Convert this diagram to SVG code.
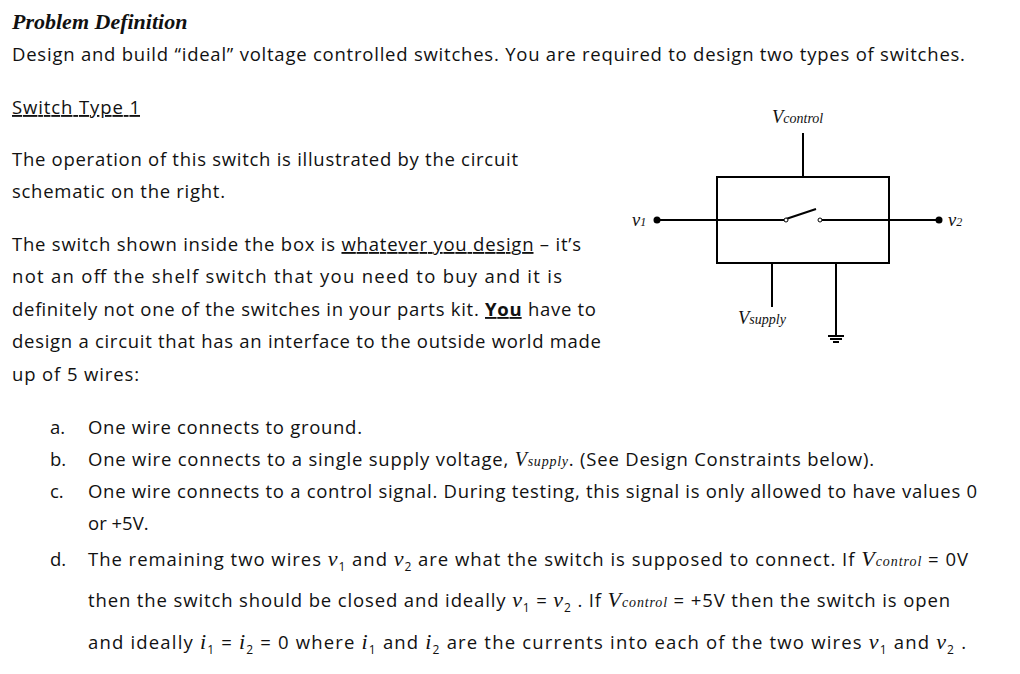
<svg xmlns="http://www.w3.org/2000/svg" width="1020" height="674" viewBox="0 0 1020 674">
<style>
text{font-family:"Open Sans","Liberation Sans",sans-serif;font-size:18.5px;fill:#111}
.m{font-family:"Liberation Serif",serif;font-style:italic}
.w{stroke:#000;stroke-width:2;fill:none}
</style>
<rect width="1020" height="674" fill="#fff"/>
<text x="12" y="29" style="font-family:'Liberation Serif',serif;font-style:italic;font-weight:bold;font-size:22px">Problem Definition</text>
<text x="12" y="61" textLength="953">Design and build “ideal” voltage controlled switches. You are required to design two types of switches.</text>
<text x="12" y="114" textLength="128" text-decoration="underline">Switch Type 1</text>
<text x="12" y="166" textLength="506">The operation of this switch is illustrated by the circuit</text>
<text x="12" y="198" textLength="213">schematic on the right.</text>
<text x="12" y="251" textLength="569">The switch shown inside the box is <tspan text-decoration="underline">whatever you design</tspan> – it’s</text>
<text x="12" y="283" textLength="550">not an off the shelf switch that you need to buy and it is</text>
<text x="12" y="316" textLength="584">definitely not one of the switches in your parts kit. <tspan font-weight="bold" text-decoration="underline">You</tspan> have to</text>
<text x="12" y="348" textLength="589">design a circuit that has an interface to the outside world made</text>
<text x="12" y="381" textLength="127">up of 5 wires:</text>

<g id="circuit">
<rect x="717" y="177" width="172" height="86" class="w"/>
<line x1="803" y1="133" x2="803" y2="177" class="w"/>
<line x1="657" y1="220" x2="785" y2="220" class="w"/>
<line x1="821" y1="220" x2="939" y2="220" class="w"/>
<line x1="786" y1="219" x2="816" y2="209" class="w" stroke-width="1.5"/>
<circle cx="786" cy="220" r="2" fill="#fff" stroke="#000"/>
<circle cx="820" cy="220" r="2" fill="#fff" stroke="#000"/>
<circle cx="657" cy="220" r="3.5" fill="#000"/>
<circle cx="939" cy="220" r="3.5" fill="#000"/>
<line x1="772" y1="263" x2="772" y2="307" class="w"/>
<line x1="836" y1="263" x2="836" y2="336" class="w"/>
<line x1="828" y1="336" x2="844" y2="336" class="w" stroke-width="1.5"/>
<line x1="830" y1="339" x2="842" y2="339" class="w" stroke-width="1.5"/>
<line x1="833" y1="342" x2="839" y2="342" class="w" stroke-width="1.5"/>
<text x="772" y="123" class="m" font-size="19">V<tspan font-size="14">control</tspan></text>
<text x="738" y="324" class="m" font-size="19">V<tspan font-size="14">supply</tspan></text>
<text x="632" y="226" class="m" font-size="18">v<tspan font-size="12">1</tspan></text>
<text x="948" y="226" class="m" font-size="18">v<tspan font-size="12">2</tspan></text>
</g>

<text x="50" y="434">a.</text>
<text x="88" y="434" textLength="274">One wire connects to ground.</text>
<text x="50" y="466">b.</text>
<text x="88" y="466" textLength="786">One wire connects to a single supply voltage, <tspan class="m" font-size="20">V<tspan font-size="14">supply</tspan></tspan>. (See Design Constraints below).</text>
<text x="50" y="498">c.</text>
<text x="88" y="498" textLength="889">One wire connects to a control signal. During testing, this signal is only allowed to have values 0</text>
<text x="88" y="530">or +5V.</text>
<text x="50" y="566">d.</text>
<text x="88" y="566" textLength="880">The remaining two wires <tspan class="m" font-size="22">v</tspan><tspan font-size="12" dy="5">1</tspan><tspan dy="-5"> and </tspan><tspan class="m" font-size="22">v</tspan><tspan font-size="12" dy="5">2</tspan><tspan dy="-5"> are what the switch is supposed to connect. If </tspan><tspan class="m" font-size="22">V</tspan><tspan class="m" font-size="14">control</tspan> = 0V</text>
<text x="88" y="607" textLength="862">then the switch should be closed and ideally <tspan class="m" font-size="22">v</tspan><tspan font-size="12" dy="5">1</tspan><tspan dy="-5"> = </tspan><tspan class="m" font-size="22">v</tspan><tspan font-size="12" dy="5">2</tspan><tspan dy="-5"> . If </tspan><tspan class="m" font-size="22">V</tspan><tspan class="m" font-size="14">control</tspan> = +5V then the switch is open</text>
<text x="88" y="649" textLength="878">and ideally <tspan class="m" font-size="22">i</tspan><tspan font-size="12" dy="5">1</tspan><tspan dy="-5"> = </tspan><tspan class="m" font-size="22">i</tspan><tspan font-size="12" dy="5">2</tspan><tspan dy="-5"> = 0 where </tspan><tspan class="m" font-size="22">i</tspan><tspan font-size="12" dy="5">1</tspan><tspan dy="-5"> and </tspan><tspan class="m" font-size="22">i</tspan><tspan font-size="12" dy="5">2</tspan><tspan dy="-5"> are the currents into each of the two wires </tspan><tspan class="m" font-size="22">v</tspan><tspan font-size="12" dy="5">1</tspan><tspan dy="-5"> and </tspan><tspan class="m" font-size="22">v</tspan><tspan font-size="12" dy="5">2</tspan><tspan dy="-5"> .</tspan></text>
</svg>
